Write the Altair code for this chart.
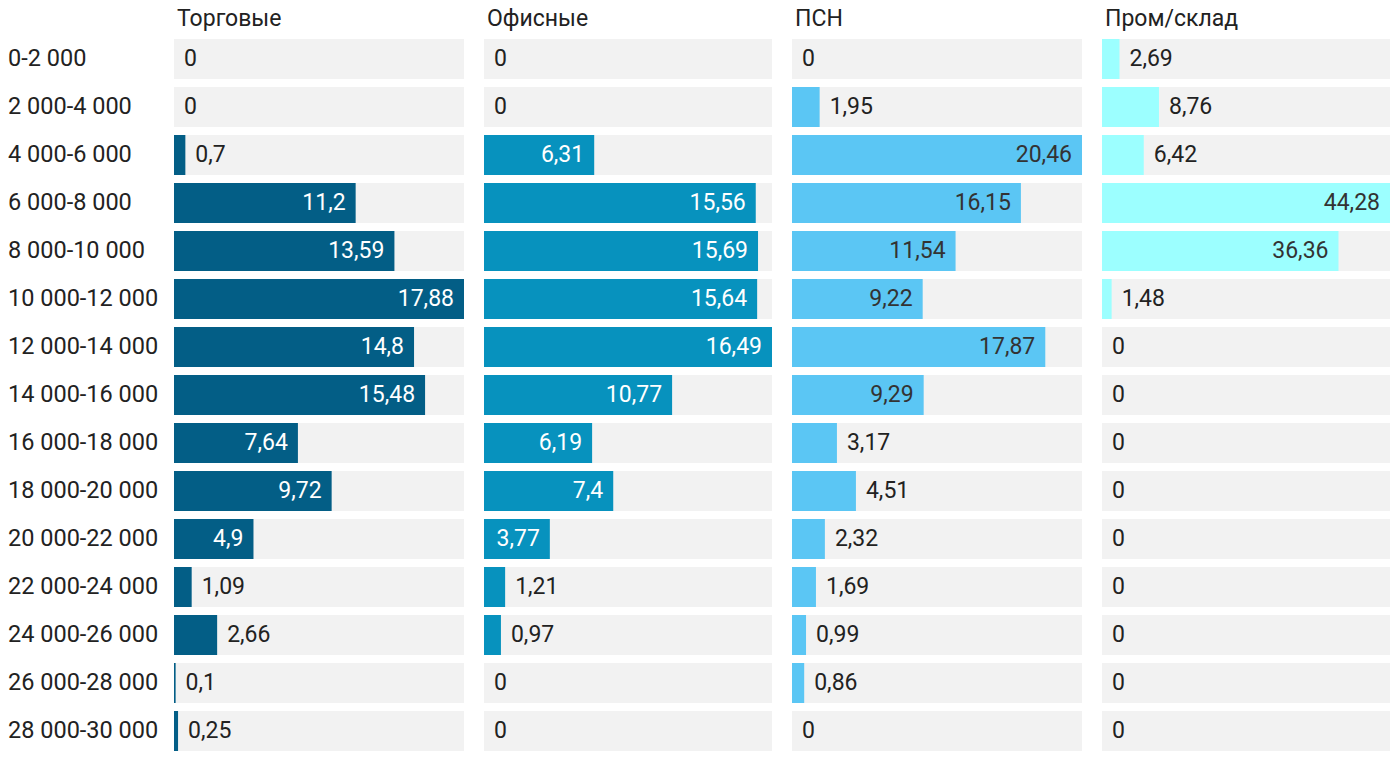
import altair as alt
import pandas as pd

categories = ["0-2 000", "2 000-4 000", "4 000-6 000", "6 000-8 000", "8 000-10 000",
              "10 000-12 000", "12 000-14 000", "14 000-16 000", "16 000-18 000",
              "18 000-20 000", "20 000-22 000", "22 000-24 000", "24 000-26 000",
              "26 000-28 000", "28 000-30 000"]

series_names = ["Торговые", "Офисные", "ПСН", "Пром/склад"]
trade = [0, 0, 0.7, 11.2, 13.59, 17.88, 14.8, 15.48, 7.64, 9.72, 4.9, 1.09, 2.66, 0.1, 0.25]
office = [0, 0, 6.31, 15.56, 15.69, 15.64, 16.49, 10.77, 6.19, 7.4, 3.77, 1.21, 0.97, 0, 0]
psn = [0, 1.95, 20.46, 16.15, 11.54, 9.22, 17.87, 9.29, 3.17, 4.51, 2.32, 1.69, 0.99, 0.86, 0]
industrial = [2.69, 8.76, 6.42, 44.28, 36.36, 1.48, 0, 0, 0, 0, 0, 0, 0, 0, 0]

series_values = [trade, office, psn, industrial]
bar_colors = ["#035E86", "#0792BE", "#5BC6F4", "#9CFFFF"]
inside_text_colors = ["#ffffff", "#ffffff", "#333333", "#333333"]
panel_widths = [290, 288, 290, 288]

FONT = "Roboto"
FS = 23
H = 720
yscale = alt.Scale(domain=categories, paddingInner=1/6, paddingOuter=1/12)


def fmt(v):
    return f"{v:g}".replace(".", ",")


def title(text):
    return alt.TitleParams(text=text, anchor="start", font=FONT, fontSize=FS,
                           fontWeight="normal", color="#222222", offset=-14,
                           baseline="alphabetic", dx=3)


panels = []

lab_df = pd.DataFrame({"cat": categories})
label_panel = alt.Chart(lab_df).mark_text(
    align="left", baseline="middle", font=FONT, fontSize=23.5, color="#222222"
).encode(
    x=alt.value(0),
    y=alt.Y("cat:N", scale=yscale, axis=None, sort=categories),
    text="cat:N",
).properties(width=146, height=H, title=title(" "))
panels.append(label_panel)

for name, vals, col, icol, w in zip(series_names, series_values, bar_colors,
                                   inside_text_colors, panel_widths):
    mx = max(vals)
    df = pd.DataFrame({"cat": categories, "v": vals})
    df["label"] = [fmt(v) for v in vals]
    df["inside"] = [v / mx >= 0.225 for v in vals]
    xs = alt.Scale(domain=[0, mx], nice=False, zero=True)
    base = alt.Chart(df)
    bg = base.mark_bar(color="#F2F2F2").encode(
        x=alt.value(0), x2=alt.value(w),
        y=alt.Y("cat:N", scale=yscale, axis=None, sort=categories),
    )
    bar = base.mark_bar(color=col).encode(
        x=alt.X("v:Q", scale=xs, axis=None),
        y=alt.Y("cat:N", scale=yscale, axis=None, sort=categories),
    )
    t_in = base.transform_filter("datum.inside").mark_text(
        align="right", baseline="middle", dx=-10, font=FONT, fontSize=FS, color=icol
    ).encode(
        x=alt.X("v:Q", scale=xs, axis=None),
        y=alt.Y("cat:N", scale=yscale, axis=None, sort=categories),
        text="label:N",
    )
    t_out = base.transform_filter("!datum.inside").mark_text(
        align="left", baseline="middle", dx=10, font=FONT, fontSize=FS, color="#222222"
    ).encode(
        x=alt.X("v:Q", scale=xs, axis=None),
        y=alt.Y("cat:N", scale=yscale, axis=None, sort=categories),
        text="label:N",
    )
    p = alt.layer(bg, bar, t_in, t_out).properties(width=w, height=H, title=title(name))
    panels.append(p)

chart = alt.hconcat(*panels, spacing=20, bounds="flush").properties(
    padding={"left": 0, "top": 0, "right": 0, "bottom": 0},
).configure_view(stroke=None)

chart.save("out.html", embed_options={"renderer": "svg", "actions": False})
